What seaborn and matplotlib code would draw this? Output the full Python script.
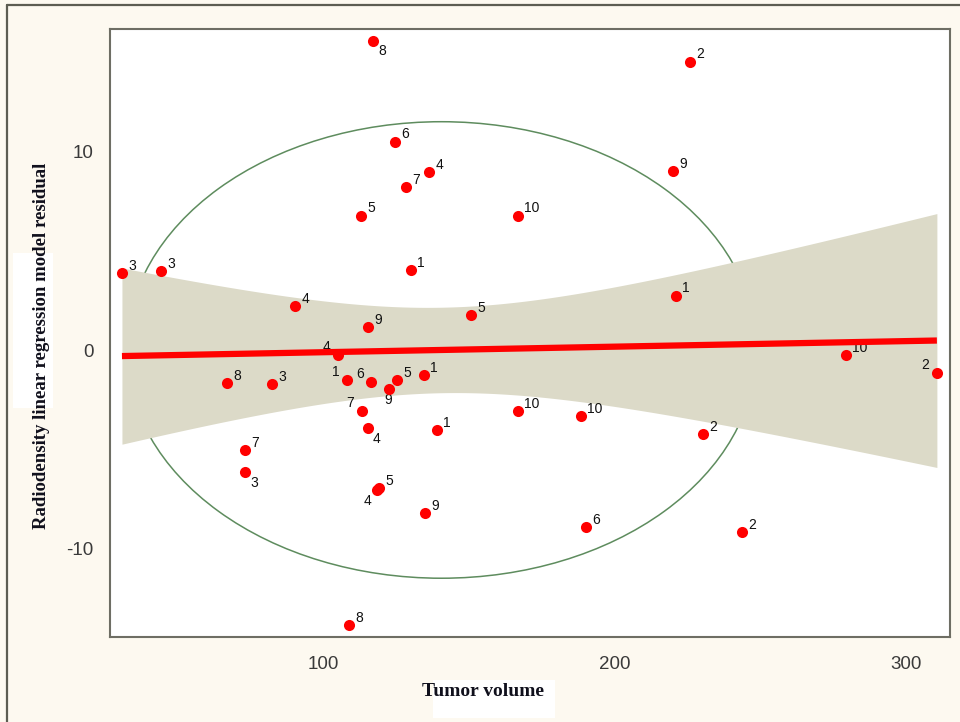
import numpy as np
import pandas as pd
import matplotlib
matplotlib.use("Agg")
import matplotlib.pyplot as plt
from matplotlib.patches import Ellipse, Rectangle
from matplotlib.lines import Line2D
import seaborn as sns

# Residuals of the radiodensity model against tumour volume, one row per scan
tumor_volume = [31.0, 44.4, 90.4, 115.4, 105.1, 67.1, 82.5, 108.2, 116.5, 125.4,
                122.6, 134.6, 113.4, 115.4, 73.2, 73.2, 118.5, 119.2, 108.9, 117.2,
                124.7, 128.5, 136.4, 113.0, 130.2, 166.9, 150.8, 139.1, 166.9, 188.5,
                190.2, 135.0, 225.9, 220.1, 221.1, 230.4, 243.7, 279.4, 310.6]
residual = [3.89, 3.99, 2.22, 1.16, -0.25, -1.67, -1.72, -1.52, -1.62, -1.52,
            -1.97, -1.26, -3.08, -3.94, -5.05, -6.16, -7.07, -6.97, -13.89, 15.61,
            10.51, 8.23, 8.99, 6.77, 4.04, 6.77, 1.77, -4.04, -3.08, -3.33,
            -8.94, -8.23, 14.55, 9.04, 2.73, -4.24, -9.19, -0.25, -1.16]
patient = [3, 3, 4, 9, 4, 8, 3, 1, 6, 5,
           9, 1, 7, 4, 7, 3, 4, 5, 8, 8,
           6, 7, 4, 5, 1, 10, 5, 1, 10, 10,
           6, 9, 2, 9, 1, 2, 2, 10, 2]

x_ticks = [100, 200, 300]
y_ticks = [-10, 0, 10]
x_title = "Tumor volume"
y_title = "Radiodensity linear regression model residual"

# where each patient number sits relative to its marker
label_side = ["ne", "ne", "ne", "ne", "nw", "ne", "ne", "nw", "nw", "ne",
              "s", "ne", "nw", "se", "ne", "se", "sw", "ne", "ne", "se",
              "ne", "ne", "ne", "ne", "ne", "ne", "ne", "ne", "ne", "ne",
              "ne", "ne", "ne", "ne", "ne", "ne", "ne", "ne", "nw"]
side_style = {
    "ne": dict(xytext=(4.6, 2.5), ha="left", va="baseline"),
    "nw": dict(xytext=(-5.5, 2.8), ha="right", va="baseline"),
    "se": dict(xytext=(3.6, -2.6), ha="left", va="top"),
    "sw": dict(xytext=(-4.0, -2.8), ha="right", va="top"),
    "s": dict(xytext=(-0.7, -3.0), ha="center", va="top"),
}

T_CRIT = 2.026       # two-sided 95 % t quantile, n - 2 degrees of freedom
ELLIPSE_K = 1.755    # ellipse half-axes in standard deviations

BG = "#fdf9f0"
FRAME = "#6e6e64"
RED = "#ff0000"
BAND = "#dcdac8"
GREEN = "#5e8c5e"

df = pd.DataFrame({"volume": tumor_volume, "residual": residual, "patient": patient})

# ordinary least squares fit and 95 % confidence band of the mean
x = df["volume"].to_numpy(float)
y = df["residual"].to_numpy(float)
n = len(x)
xm, ym = x.mean(), y.mean()
sxx = ((x - xm) ** 2).sum()
slope = ((x - xm) * (y - ym)).sum() / sxx
intercept = ym - slope * xm
s_err = np.sqrt(((y - intercept - slope * x) ** 2).sum() / (n - 2))
grid = np.linspace(x.min(), x.max(), 400)
fit = intercept + slope * grid
half = T_CRIT * s_err * np.sqrt(1.0 / n + (grid - xm) ** 2 / sxx)

sns.set_style("white")
plt.rcParams["font.family"] = ["Liberation Sans", "DejaVu Sans"]
plt.rcParams["axes.unicode_minus"] = False

fig = plt.figure(figsize=(9.6, 7.22), dpi=100, facecolor=BG)
ax = fig.add_axes([110 / 960, 85 / 722, 840 / 960, 608 / 722])
ax.set_facecolor("white")

ax.add_patch(Ellipse((xm, ym), 2 * ELLIPSE_K * x.std(ddof=1), 2 * ELLIPSE_K * y.std(ddof=1),
                     fill=False, ec=GREEN, lw=1.1, zorder=1))
ax.fill_between(grid, fit - half, fit + half, color=BAND, lw=0, zorder=2)

for vx, vy, pid, side in zip(tumor_volume, residual, patient, label_side):
    ax.annotate(str(pid), (vx, vy), textcoords="offset points", fontsize=10,
                color="#111111", zorder=3, **side_style[side])

sns.regplot(data=df, x="volume", y="residual", scatter=False, ci=None, truncate=True,
            color=RED, line_kws=dict(lw=4.5, zorder=4, solid_capstyle="butt"), ax=ax)
sns.scatterplot(data=df, x="volume", y="residual", color=RED, s=64, linewidth=0,
                zorder=5, ax=ax)

ax.set_xlim(26.9, 315.1)
ax.set_ylim(-14.49, 16.21)
ax.set_xticks(x_ticks)
ax.set_yticks(y_ticks)
ax.tick_params(direction="out", length=7, width=1.1, color=FRAME,
               labelsize=13.5, labelcolor="#3a3a3a")
ax.tick_params(axis="x", pad=6.5)
ax.tick_params(axis="y", pad=5)
for sp in ax.spines.values():
    sp.set_visible(True)
    sp.set_color(FRAME)
    sp.set_linewidth(1.5)

# white panels behind the axis titles (drawn beneath the axes and their labels)
fig.add_artist(Rectangle((13 / 960, 1 - 408 / 722), 40 / 960, 155 / 722,
                         transform=fig.transFigure, color="white", lw=0, zorder=-1))
fig.add_artist(Rectangle((433 / 960, 4 / 722), 122 / 960, 38 / 722,
                         transform=fig.transFigure, color="white", lw=0, zorder=-1))

title_font = dict(family=["Liberation Serif", "DejaVu Serif"], weight="bold",
                  color="#10101c")
ax.set_xlabel(x_title, fontsize=14, ha="center", va="center", **title_font)
ax.set_ylabel(y_title, fontsize=13.5, ha="center", va="center", **title_font)
ax.xaxis.set_label_coords((483.5 - 110) / 840, (637 - 692) / 608)
ax.yaxis.set_label_coords((42 - 110) / 840, (637 - 346) / 608)

# outer frame of the panel
fig.add_artist(Line2D([6.5 / 960, 6.5 / 960], [0, 1 - 5 / 722], transform=fig.transFigure,
                      color="#5d5d52", lw=1.6))
fig.add_artist(Line2D([6.5 / 960, 1], [1 - 5 / 722, 1 - 5 / 722], transform=fig.transFigure,
                      color="#5d5d52", lw=1.6))

fig.savefig("out.png", dpi=100, facecolor=BG)
